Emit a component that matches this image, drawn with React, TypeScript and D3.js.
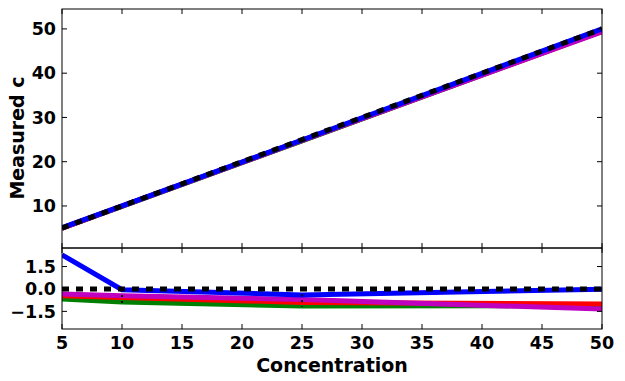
import React, { useEffect, useRef } from "react";
import * as d3 from "d3";

// concentrations where each series was measured
const concentration = [5, 10, 25, 50];

// measured concentration per series (upper panel)
const measuredBlue = [5.11, 10.0, 24.9, 50.0];
const measuredRed = [4.98, 9.94, 24.77, 49.5];
const measuredGreen = [4.97, 9.91, 24.72, 49.44];
const measuredMagenta = [4.98, 9.95, 24.8, 49.32];
const idealLine = [5, 10, 25, 50];

// residuals per series (lower panel)
const residualBlue = [2.28, -0.05, -0.4, -0.02];
const residualRed = [-0.45, -0.57, -0.9, -1.0];
const residualGreen = [-0.67, -0.87, -1.14, -1.12];
const residualMagenta = [-0.33, -0.45, -0.7, -1.35];
const residualZero = [0, 0, 0, 0];

// small dotted error markers on the residual panel
const errX = [10, 25];
const errLo = [-1.0, -1.2];
const errHi = [0.0, -0.35];

const xTicks = [5, 10, 15, 20, 25, 30, 35, 40, 45, 50];
const yTicksTop = [10, 20, 30, 40, 50];
const yTicksBottom = [1.5, 0.0, -1.5];

const W = 625;
const H = 381;

const App = () => {
  const svgRef = useRef<SVGSVGElement>(null);

  useEffect(() => {
    const svg = d3.select(svgRef.current);
    svg.selectAll("*").remove();

    const left = 62;
    const right = 602;
    const topA = 9;
    const midY = 248;
    const botB = 329;
    const font = "DejaVu Sans, sans-serif";
    const tickLen = 5;
    const tickFont = 17.5;
    const labelFont = 19;

    const x = d3.scaleLinear().domain([5, 50]).range([left, right]);
    const yTop = d3.scaleLinear().domain([0.5, 54.5]).range([midY, topA]);
    const yBot = d3.scaleLinear().domain([-2.68, 2.74]).range([botB, midY]);

    const drawPanel = (
      y: d3.ScaleLinear<number, number>,
      y0: number,
      y1: number,
      yTicks: number[],
      fmt: (v: number) => string,
      series: { vals: number[]; color: string; dash?: string }[],
      showX: boolean
    ) => {
      const clipId = `clip-${y0}`;
      svg
        .append("clipPath")
        .attr("id", clipId)
        .append("rect")
        .attr("x", left)
        .attr("y", y0)
        .attr("width", right - left)
        .attr("height", y1 - y0);

      const g = svg.append("g").attr("clip-path", `url(#${clipId})`);
      const line = d3
        .line<number>()
        .x((_, i) => x(concentration[i]))
        .y((d) => y(d));

      series.forEach((s) => {
        g.append("path")
          .datum(s.vals)
          .attr("d", line)
          .attr("fill", "none")
          .attr("stroke", s.color)
          .attr("stroke-width", 5)
          .attr("stroke-dasharray", s.dash || null);
      });

      if (showX) {
        errX.forEach((ex, i) => {
          g.append("line")
            .attr("x1", x(ex))
            .attr("x2", x(ex))
            .attr("y1", y(errHi[i]))
            .attr("y2", y(errLo[i]))
            .attr("stroke", "#000")
            .attr("stroke-width", 2)
            .attr("stroke-dasharray", "2,4");
        });
      }

      // frame
      svg
        .append("rect")
        .attr("x", left)
        .attr("y", y0)
        .attr("width", right - left)
        .attr("height", y1 - y0)
        .attr("fill", "none")
        .attr("stroke", "#000")
        .attr("stroke-width", 1);

      // x ticks inward top & bottom
      xTicks.forEach((t) => {
        svg.append("line")
          .attr("x1", x(t)).attr("x2", x(t))
          .attr("y1", y0).attr("y2", y0 + tickLen)
          .attr("stroke", "#000");
        svg.append("line")
          .attr("x1", x(t)).attr("x2", x(t))
          .attr("y1", y1).attr("y2", y1 - tickLen)
          .attr("stroke", "#000");
        if (showX) {
          svg.append("text")
            .attr("x", x(t))
            .attr("y", y1 + 20)
            .attr("text-anchor", "middle")
            .attr("font-family", font)
            .attr("font-weight", "bold")
            .attr("font-size", tickFont)
            .text(String(t));
        }
      });

      // y ticks inward left & right
      yTicks.forEach((t) => {
        svg.append("line")
          .attr("x1", left).attr("x2", left + tickLen)
          .attr("y1", y(t)).attr("y2", y(t))
          .attr("stroke", "#000");
        svg.append("line")
          .attr("x1", right).attr("x2", right - tickLen)
          .attr("y1", y(t)).attr("y2", y(t))
          .attr("stroke", "#000");
        svg.append("text")
          .attr("x", left - 6)
          .attr("y", y(t))
          .attr("dy", "0.36em")
          .attr("text-anchor", "end")
          .attr("font-family", font)
          .attr("font-weight", "bold")
          .attr("font-size", tickFont)
          .text(fmt(t));
      });
    };

    drawPanel(
      yTop,
      topA,
      midY,
      yTicksTop,
      (v) => String(v),
      [
        { vals: measuredRed, color: "#ff0000" },
        { vals: measuredGreen, color: "#008000" },
        { vals: measuredMagenta, color: "#bf00bf" },
        { vals: measuredBlue, color: "#0000ff" },
        { vals: idealLine, color: "#000", dash: "7,7" },
      ],
      false
    );

    drawPanel(
      yBot,
      midY,
      botB,
      yTicksBottom,
      (v) => (v < 0 ? "\u2212" + Math.abs(v).toFixed(1) : v.toFixed(1)),
      [
        { vals: residualGreen, color: "#008000" },
        { vals: residualRed, color: "#ff0000" },
        { vals: residualMagenta, color: "#bf00bf" },
        { vals: residualBlue, color: "#0000ff" },
        { vals: residualZero, color: "#000", dash: "7,7" },
      ],
      true
    );

    svg.append("text")
      .attr("transform", "translate(24,138) rotate(-90)")
      .attr("text-anchor", "middle")
      .attr("font-family", font)
      .attr("font-weight", "bold")
      .attr("font-size", labelFont)
      .text("Measured c");

    svg.append("text")
      .attr("x", 332)
      .attr("y", 372)
      .attr("text-anchor", "middle")
      .attr("font-family", font)
      .attr("font-weight", "bold")
      .attr("font-size", labelFont)
      .text("Concentration");
  }, []);

  return (
    <div style={{ position: "fixed", left: 0, top: 0, background: "#fff" }}>
      <svg ref={svgRef} width={W} height={H} style={{ display: "block" }} />
    </div>
  );
};

export default App;
